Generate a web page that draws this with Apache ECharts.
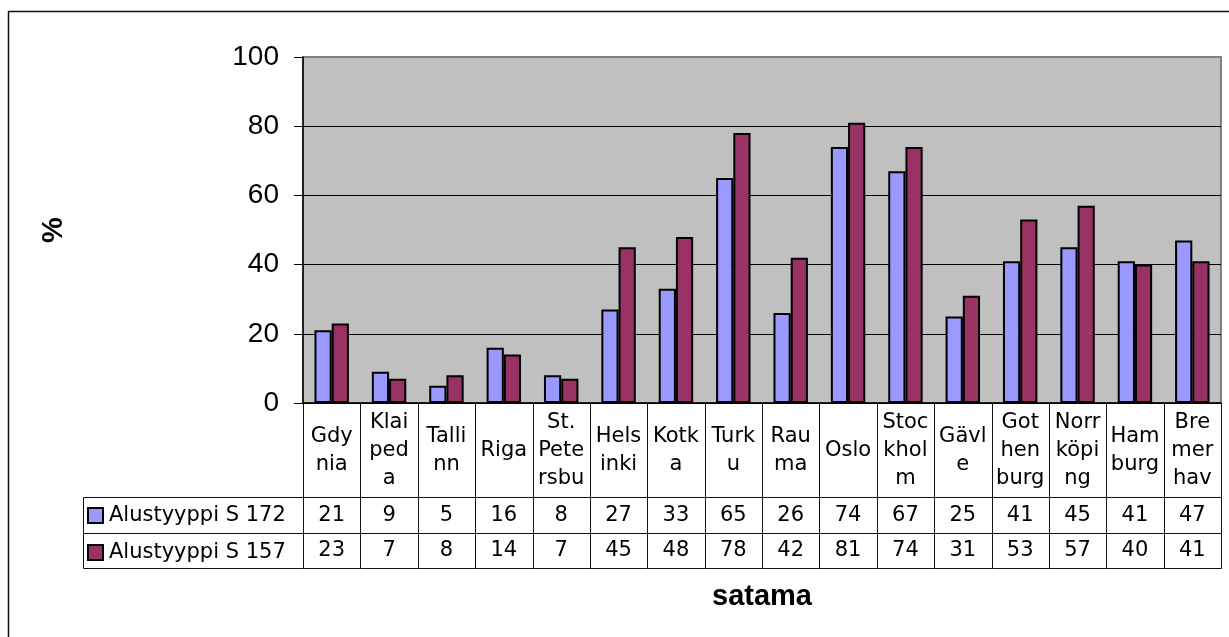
<!DOCTYPE html>
<html>
<head>
<meta charset="utf-8">
<script src="https://cdn.jsdelivr.net/npm/echarts@6/dist/echarts.min.js"></script>
<style>
html,body{margin:0;padding:0;background:#fff;}
#chart{width:1229px;height:637px;}
</style>
</head>
<body>
<div id="chart"></div>
<script>
// ---- data ----
const categories = ['Gdy\nnia','Klai\nped\na','Talli\nnn','Riga','St.\nPete\nrsbu','Hels\ninki','Kotk\na','Turk\nu','Rau\nma','Oslo','Stoc\nkhol\nm','Gävl\ne','Got\nhen\nburg','Norr\nköpi\nng','Ham\nburg','Bre\nmer\nhav'];
const seriesNames = ['Alustyyppi S 172', 'Alustyyppi S 157'];
const valuesS172 = [21, 9, 5, 16, 8, 27, 33, 65, 26, 74, 67, 25, 41, 45, 41, 47];
const valuesS157 = [23, 7, 8, 14, 7, 45, 48, 78, 42, 81, 74, 31, 53, 57, 40, 41];
const yMin = 0, yMax = 100, yStep = 20;
const yName = '%';
const xName = 'satama';

// ---- layout / style ----
const ROW_EDGES = [0, 94, 130, 165];
const LEGEND_COL = 220;
const TABLE_FONT = '21px "DejaVu Sans"';
const colors = ['#9999FF', '#993366'];

function renderTable(params, api) {
  const i = api.value(0);
  const cx = api.coord([i, 0])[0];
  const w = api.size([1, 0])[0];
  const ys = ROW_EDGES.map(v => Math.round(api.coord([i, v])[1]) + 0.5);
  const xl = Math.round(cx - w / 2) + 0.5;
  const xr = Math.round(cx + w / 2) + 0.5;
  const ls = { stroke: '#111', lineWidth: 1 };
  const ch = [];
  const line = (x1, y1, x2, y2) => ch.push({ type: 'line', shape: { x1, y1, x2, y2 }, style: ls, silent: true });
  line(xr, ys[0], xr, ys[3]);
  line(xl, ys[1], xr, ys[1]);
  line(xl, ys[2], xr, ys[2]);
  line(xl, ys[3], xr, ys[3]);
  if (i === 0) {
    line(xl, ys[0], xl, ys[3]);
    const xL = xl - LEGEND_COL;
    line(xL, ys[1], xl, ys[1]);
    line(xL, ys[2], xl, ys[2]);
    line(xL, ys[3], xl, ys[3]);
    line(xL, ys[1], xL, ys[3]);
  }
  const txt = (text, y, lh) => ch.push({
    type: 'text', silent: true,
    style: { text, x: cx, y, align: 'center', verticalAlign: 'middle', font: TABLE_FONT, lineHeight: lh, fill: '#000' }
  });
  txt(categories[i], (ys[0] + ys[1]) / 2, 28);
  txt(String(valuesS172[i]), (ys[1] + ys[2]) / 2, 22);
  txt(String(valuesS157[i]), (ys[2] + ys[3]) / 2, 22);
  return { type: 'group', children: ch };
}

const chart = echarts.init(document.getElementById('chart'), null, { renderer: 'canvas' });
chart.setOption({
  animation: false,
  backgroundColor: '#fff',
  textStyle: { fontFamily: 'Liberation Sans' },
  graphic: [{
    type: 'rect', silent: true, z: -10,
    shape: { x: 8.5, y: 11.5, width: 1400, height: 800 },
    style: { fill: 'none', stroke: '#111', lineWidth: 1.5 }
  }],
  legend: {
    data: seriesNames,
    orient: 'vertical',
    left: 87, top: 505,
    padding: 0,
    itemGap: 16,
    itemWidth: 15, itemHeight: 15,
    icon: 'rect',
    textStyle: { fontFamily: 'DejaVu Sans', fontSize: 21, lineHeight: 20, color: '#000', padding: [0, 0, 0, 1] },
    selectedMode: false
  },
  grid: [
    { left: 303, right: 8, top: 57, bottom: 234, show: true, backgroundColor: '#C0C0C0', borderColor: '#808080', borderWidth: 2 },
    { left: 303, right: 8, top: 403, bottom: 69 }
  ],
  xAxis: [
    { type: 'category', gridIndex: 0, data: categories,
      axisLine: { show: true, lineStyle: { color: '#000', width: 1.5 } },
      axisTick: { show: false }, axisLabel: { show: false }, splitLine: { show: false } },
    { type: 'category', gridIndex: 1, data: categories,
      axisLine: { show: false }, axisTick: { show: false }, axisLabel: { show: false }, splitLine: { show: false },
      name: xName, nameLocation: 'middle', nameGap: 14,
      nameTextStyle: { fontFamily: 'Liberation Sans', fontWeight: 'bold', fontSize: 29, color: '#000' } }
  ],
  yAxis: [
    { type: 'value', gridIndex: 0, min: yMin, max: yMax, interval: yStep,
      axisLine: { show: true, lineStyle: { color: '#000', width: 1.5 } },
      axisTick: { show: true, length: 9, lineStyle: { color: '#000', width: 1 } },
      axisLabel: { fontFamily: 'Liberation Sans', fontSize: 28, color: '#000', margin: 24 },
      splitLine: { show: true, showMaxLine: false, lineStyle: { color: '#000', width: 1 } },
      name: yName, nameLocation: 'middle', nameRotate: 90, nameGap: 235,
      nameTextStyle: { fontFamily: 'Liberation Sans', fontWeight: 'bold', fontSize: 29, color: '#000' } },
    { type: 'value', gridIndex: 1, min: 0, max: ROW_EDGES[3], inverse: true, show: false }
  ],
  series: [
    { name: seriesNames[0], type: 'bar', xAxisIndex: 0, yAxisIndex: 0, data: valuesS172,
      barGap: '0%', barCategoryGap: '40%',
      itemStyle: { color: colors[0], borderColor: '#000', borderWidth: 2 } },
    { name: seriesNames[1], type: 'bar', xAxisIndex: 0, yAxisIndex: 0, data: valuesS157,
      barGap: '0%', barCategoryGap: '40%',
      itemStyle: { color: colors[1], borderColor: '#000', borderWidth: 2 } },
    { name: 'table', type: 'custom', xAxisIndex: 1, yAxisIndex: 1, silent: true,
      data: categories.map((c, i) => [i]), encode: { x: 0 },
      renderItem: renderTable }
  ]
});
</script>
</body>
</html>
